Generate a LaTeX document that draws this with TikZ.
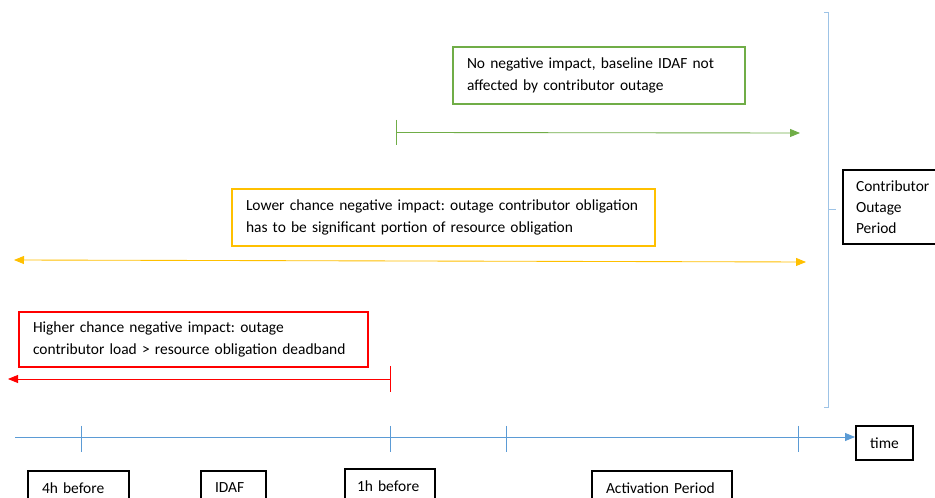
\documentclass[tikz,border=0pt]{standalone}
\usepackage{fontspec}
\setmainfont{Carlito}
\frenchspacing
\usetikzlibrary{arrows.meta,positioning}
\definecolor{impgreen}{HTML}{70AD47}
\definecolor{impyellow}{HTML}{FFC000}
\definecolor{impred}{HTML}{FF0000}
\definecolor{axisblue}{HTML}{5B9BD5}
\definecolor{bracketblue}{HTML}{9DC3E6}
\tikzset{
  notebox/.style={draw, line width=1.5pt, anchor=north west, align=left,
    inner xsep=10.5pt, inner ysep=0pt, font=\fontsize{11.6}{16}\selectfont},
  labelbox/.style={notebox, draw=black, minimum height=25.5pt},
  span/.style={line width=0.65pt, -{Triangle[length=7.5pt,width=6pt]}},
  mark line/.style={line width=0.65pt}
}
\begin{document}
\begin{tikzpicture}[x=0.75pt,y=-0.75pt]
\clip (0,0) rectangle (935,498);
\fill[white] (0,0) rectangle (935,498);
% notes
\node[notebox, draw=impgreen, text width=198pt, minimum height=42.75pt] (nobox) at (452,46)
  {No negative impact, baseline IDAF not\\affected by contributor outage};
\node[notebox, draw=impyellow, text width=296.25pt, minimum height=42.75pt] (lowbox) at (231,188)
  {Lower chance negative impact: outage contributor obligation\\has to be significant portion of resource obligation};
\node[notebox, draw=impred, text width=240.75pt, minimum height=41.25pt] (highbox) at (18,311)
  {Higher chance negative impact: outage\\contributor load > resource obligation deadband};
\node[notebox, draw=black, inner xsep=9.75pt, text width=62pt, minimum height=55.5pt,
  font=\fontsize{11.6}{15.75}\selectfont] (outagebox) at (842,169) {Contributor\\Outage\\Period};
% impact spans
\coordinate (nostart) at (396,132.5);
\coordinate (noend) at (800,133);
\draw[mark line, impgreen] (396,120) -- (396,145);
\draw[span, impgreen] (nostart) -- (noend);
\coordinate (lowstart) at (14,260);
\coordinate (lowend) at (806,262);
\draw[span, {Triangle[length=7.5pt,width=6pt]}-{Triangle[length=7.5pt,width=6pt]}, impyellow] (lowstart) -- (lowend);
\coordinate (highstart) at (390,379);
\coordinate (highend) at (8,379);
\draw[mark line, impred] (390,366) -- (390,392);
\draw[span, impred] (highstart) -- (highend);
% outage bracket
\draw[mark line, bracketblue] (824,12) -- (828,12) -- (828,407) -- (824,407);
\draw[mark line, bracketblue] (828,209) -- (836,209);
% time axis
\node[labelbox, anchor=center, align=center, inner xsep=0pt, minimum width=42.75pt] (timebox) at (884.5,443) {time};
\coordinate (axisstart) at (15,437);
\draw[span, axisblue] (axisstart) -- (axisstart -| timebox.west);
\foreach \tx in {81,390,506,798}
  \draw[mark line, axisblue] (\tx,426) -- (\tx,452);
\node[labelbox, text width=54.75pt] (lbfour) at (27,470) {4h before};
\node[labelbox, text width=27.75pt] (lbidaf) at (200,470) {IDAF};
\node[labelbox, inner xsep=9pt, text width=49.5pt] (lbone) at (344,468) {1h before};
\node[labelbox, text width=84pt] (lbact) at (591,470) {Activation Period};
\end{tikzpicture}
\end{document}
